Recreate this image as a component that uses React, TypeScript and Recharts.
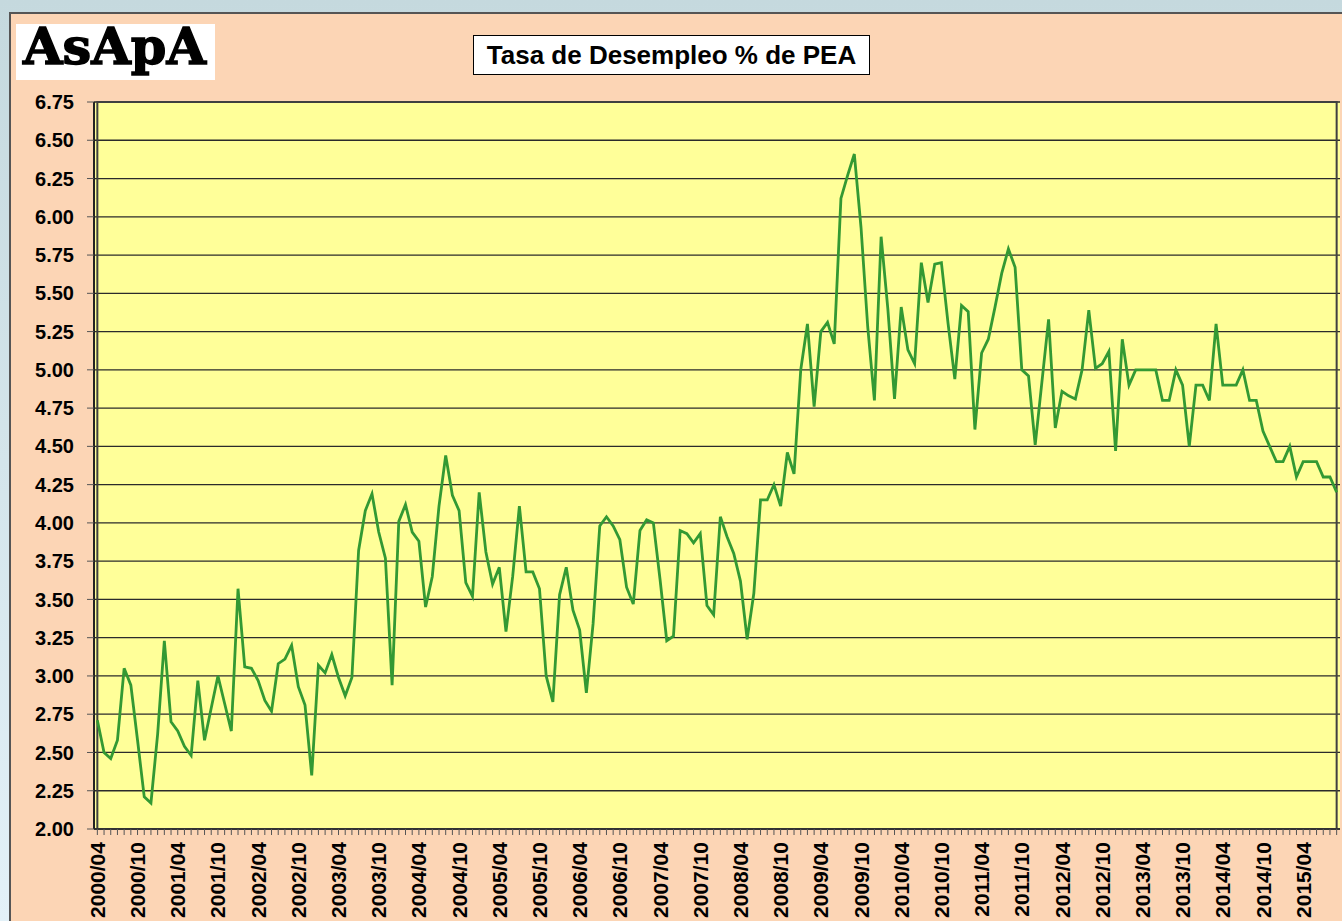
import React from 'react';
import { LineChart, Line, XAxis, YAxis, CartesianGrid, ReferenceArea } from 'recharts';

// Tasa de desempleo mensual (% de PEA), 2000/04 .. 2015/09
const tasa2000a2002 = [2.71, 2.50, 2.46, 2.58, 3.05, 2.94, 2.58, 2.21, 2.17, 2.62, 3.23, 2.70, 2.64, 2.54, 2.48, 2.97, 2.58, 2.79, 3.00, 2.82, 2.64, 3.57, 3.06, 3.05, 2.97];
const tasa2002a2004 = [2.84, 2.77, 3.08, 3.11, 3.20, 2.93, 2.81, 2.35, 3.07, 3.02, 3.14, 2.99, 2.87, 2.99, 3.82, 4.08, 4.19, 3.94, 3.77, 2.94, 4.01, 4.12, 3.94, 3.88];
const tasa2004a2006 = [3.45, 3.65, 4.11, 4.44, 4.18, 4.08, 3.61, 3.52, 4.20, 3.81, 3.60, 3.71, 3.29, 3.65, 4.11, 3.68, 3.68, 3.57, 3.00, 2.83, 3.53, 3.71, 3.43, 3.30];
const tasa2006a2008 = [2.89, 3.34, 3.98, 4.04, 3.98, 3.89, 3.58, 3.47, 3.95, 4.02, 4.00, 3.63, 3.23, 3.26, 3.95, 3.93, 3.87, 3.93, 3.46, 3.40, 4.04, 3.91, 3.80, 3.62, 3.24, 3.54, 4.15];
const tasa2008a2010 = [4.15, 4.25, 4.11, 4.46, 4.32, 5.00, 5.30, 4.76, 5.25, 5.31, 5.17, 6.12, 6.27, 6.41, 5.93, 5.28, 4.80, 5.87, 5.40, 4.81, 5.41];
const tasa2010a2011 = [5.13, 5.04, 5.70, 5.44, 5.69, 5.70, 5.30, 4.94, 5.42, 5.38, 4.61, 5.11, 5.20, 5.41, 5.63, 5.79, 5.67, 5.00, 4.96, 4.51];
const tasa2012a2013 = [4.92, 5.33, 4.62, 4.86, 4.83, 4.81, 5.00, 5.39, 5.01, 5.04, 5.12, 4.47, 5.20, 4.90, 5.00, 5.00, 5.00, 5.00, 4.80, 4.80, 5.00, 4.90, 4.50, 4.90];
const tasa2014a2015 = [4.90, 4.80, 5.30, 4.90, 4.90, 4.90, 5.00, 4.80, 4.80, 4.60, 4.50, 4.40, 4.40, 4.50, 4.30, 4.40, 4.40, 4.40, 4.30, 4.30, 4.20];

const tasas = [
  ...tasa2000a2002, ...tasa2002a2004, ...tasa2004a2006, ...tasa2006a2008,
  ...tasa2008a2010, ...tasa2010a2011, ...tasa2012a2013, ...tasa2014a2015,
];

const xTickLabels = [
  '2000/04', '2000/10', '2001/04', '2001/10', '2002/04', '2002/10', '2003/04', '2003/10',
  '2004/04', '2004/10', '2005/04', '2005/10', '2006/04', '2006/10', '2007/04', '2007/10',
  '2008/04', '2008/10', '2009/04', '2009/10', '2010/04', '2010/10', '2011/04', '2011/10',
  '2012/04', '2012/10', '2013/04', '2013/10', '2014/04', '2014/10', '2015/04',
];

const yTicks = [2, 2.25, 2.5, 2.75, 3, 3.25, 3.5, 3.75, 4, 4.25, 4.5, 4.75, 5, 5.25, 5.5, 5.75, 6, 6.25, 6.5, 6.75];

// meses consecutivos desde 2000/04
const meses = tasas.map((_, i) => {
  const m = 3 + i;
  const year = 2000 + Math.floor(m / 12);
  const month = (m % 12) + 1;
  return `${year}/${String(month).padStart(2, '0')}`;
});

const data = meses.map((mes, i) => ({ mes, tasa: tasas[i] }));

const FONT = '"Liberation Sans", Arial, sans-serif';

function XTick(props: any) {
  const { x, payload } = props;
  if (!xTickLabels.includes(payload.value)) return null;
  const y = 842;
  return (
    <text
      x={x}
      y={y}
      dy="0.36em"
      transform={`rotate(-90, ${x}, ${y})`}
      textAnchor="end"
      fontSize={21}
      fontWeight="bold"
      fill="#000"
      fontFamily={FONT}
    >
      {payload.value}
    </text>
  );
}

export default function App() {
  return (
    <div style={{ position: 'absolute', left: 0, top: 0, width: 1342, height: 921, overflow: 'hidden', background: 'linear-gradient(to bottom, #c5d9de, #e3f1f8)' }}>
      <div style={{ position: 'absolute', left: 9, top: 12, right: -4, bottom: -4, background: '#fcd5b5', borderLeft: '2px solid #555', borderTop: '2px solid #555' }} />
      <svg style={{ position: 'absolute', left: 16, top: 14 }} width={199} height={76}>
        <rect x={0} y={10} width={199} height={56} fill="#fff" />
        <text
          x={7}
          y={50}
          textLength={183}
          lengthAdjust="spacingAndGlyphs"
          fontFamily='"DejaVu Serif", serif'
          fontWeight="bold"
          fontSize={50}
          fill="#000"
          stroke="#000"
          strokeWidth={1.4}
        >
          AsApA
        </text>
      </svg>
      <div style={{ position: 'absolute', left: 473, top: 35, width: 395, height: 38, background: '#fff', border: '1px solid #000', display: 'flex', alignItems: 'center', justifyContent: 'center', fontFamily: FONT, fontWeight: 'bold', fontSize: 26, color: '#000' }}>
        Tasa de Desempleo % de PEA
      </div>
      <div style={{ position: 'absolute', left: 0, top: 0 }}>
        <LineChart width={1342} height={921} data={data} margin={{ top: 102, right: 2, bottom: 0, left: 8 }} style={{ fontFamily: FONT }}>
          <CartesianGrid vertical={false} stroke="#2b2b2b" strokeWidth={1.3} fill="#ffff99" fillOpacity={1} />
          <XAxis
            dataKey="mes"
            interval={0}
            height={92}
            padding={{ left: 3.35, right: 3.35 }}
            tick={<XTick />}
            tickSize={6}
            tickLine={{ stroke: '#555' }}
            axisLine={{ stroke: '#333', strokeWidth: 2 }}
          />
          <YAxis
            domain={[2, 6.75]}
            ticks={yTicks}
            width={86}
            tickSize={7}
            tickMargin={13}
            tickFormatter={(v: number) => v.toFixed(2)}
            tick={{ fontSize: 20, fontWeight: 'bold', fill: '#000', fontFamily: FONT }}
            tickLine={{ stroke: '#555' }}
            axisLine={{ stroke: '#222', strokeWidth: 2 }}
            allowDataOverflow
          />
          <ReferenceArea y1={2} y2={6.75} fill="none" stroke="#404040" strokeWidth={2} ifOverflow="visible" />
          <Line type="linear" dataKey="tasa" stroke="#339933" strokeWidth={2.8} dot={false} isAnimationActive={false} />
        </LineChart>
      </div>
    </div>
  );
}
